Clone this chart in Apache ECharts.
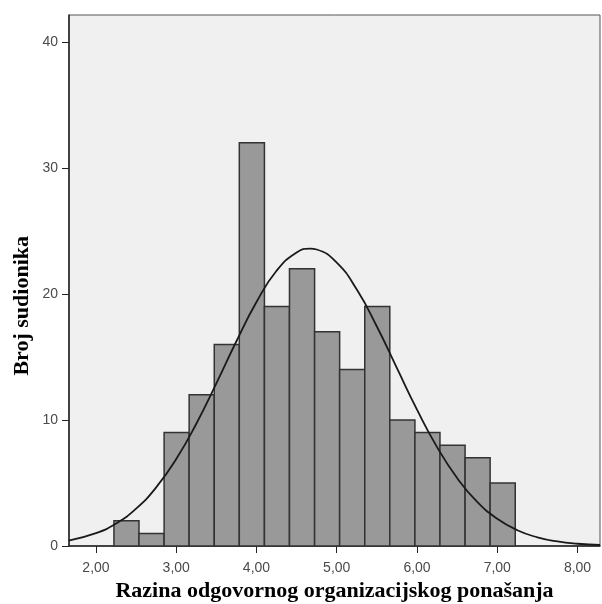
<!DOCTYPE html>
<html>
<head>
<meta charset="utf-8">
<script src="https://cdn.jsdelivr.net/npm/echarts@6/dist/echarts.min.js"></script>
<style>
  html, body { margin: 0; padding: 0; background: #fff; }
  #chart { width: 602px; height: 604px; }
</style>
</head>
<body>
<div id="chart"></div>
<script>
// histogram bins (edges) and counts
var binEdges = [2.224, 2.536, 2.849, 3.161, 3.474, 3.786, 4.099, 4.411, 4.724,
                5.036, 5.349, 5.661, 5.974, 6.286, 6.599, 6.911, 7.224];
var counts = [2, 1, 9, 12, 16, 32, 19, 22, 17, 14, 19, 10, 9, 8, 7, 5];

// fitted normal curve
var curveX = [1.66, 2.0, 2.25, 2.5, 2.75, 3.0, 3.25, 3.5, 3.75, 4.0, 4.25, 4.5, 4.67, 4.75,
              5.0, 5.25, 5.5, 5.75, 6.0, 6.25, 6.5, 6.75, 7.0, 7.25, 7.5, 7.75, 8.0, 8.28];
var curveY = [0.43, 1.02, 1.78, 2.96, 4.65, 6.90, 9.70, 12.91, 16.25, 19.36, 21.84, 23.30, 23.6, 23.53,
              22.49, 20.35, 17.42, 14.11, 10.82, 7.85, 5.39, 3.50, 2.16, 1.25, 0.69, 0.36, 0.18, 0.08];

var xTicks = [2, 3, 4, 5, 6, 7, 8];

var barData = counts.map(function (c, i) {
    return [binEdges[i], binEdges[i + 1], c];
});
var lineData = curveX.map(function (x, i) {
    return [x, curveY[i]];
});

var chart = echarts.init(document.getElementById('chart'));

var labelFont = {
    color: '#4a4a4a',
    fontFamily: '"Liberation Sans", Arial, sans-serif',
    fontSize: 14
};

var option = {
    animation: false,
    backgroundColor: '#ffffff',
    grid: {
        left: 69,
        right: 2,
        top: 15,
        bottom: 58,
        outerBoundsMode: 'none',
        show: true,
        backgroundColor: '#f0f0f0',
        borderColor: '#555555',
        borderWidth: 1
    },
    xAxis: {
        type: 'value',
        min: 1.664,
        max: 8.28,
        name: 'Razina odgovornog organizacijskog ponašanja',
        nameLocation: 'middle',
        nameGap: 34,
        nameTextStyle: {
            color: '#000',
            fontFamily: '"Liberation Serif", "Times New Roman", serif',
            fontWeight: 'bold',
            fontSize: 22
        },
        axisLine: { show: true, onZero: false, lineStyle: { color: '#222', width: 1.5 } },
        axisTick: { show: true, length: 7, customValues: xTicks, lineStyle: { color: '#222' } },
        axisLabel: Object.assign({
            margin: 15,
            customValues: xTicks,
            formatter: function (v) { return v.toFixed(2).replace('.', ','); }
        }, labelFont),
        splitLine: { show: false }
    },
    yAxis: {
        type: 'value',
        min: 0,
        max: 42.14,
        interval: 10,
        axisLine: { show: true, lineStyle: { color: '#222', width: 1.5 } },
        axisTick: { show: true, length: 7, lineStyle: { color: '#222' } },
        axisLabel: Object.assign({
            margin: 11,
            showMaxLabel: false
        }, labelFont),
        splitLine: { show: false }
    },
    graphic: [{
        type: 'text',
        left: 11,
        top: 236,
        rotation: Math.PI / 2,
        style: {
            text: 'Broj sudionika',
            fill: '#000',
            font: 'bold 22px "Liberation Serif", "Times New Roman", serif'
        }
    }],
    series: [{
        type: 'custom',
        data: barData,
        encode: { x: [0, 1], y: 2 },
        renderItem: function (params, api) {
            var p0 = api.coord([api.value(0), api.value(2)]);
            var p1 = api.coord([api.value(1), 0]);
            return {
                type: 'rect',
                shape: { x: p0[0], y: p0[1], width: p1[0] - p0[0], height: p1[1] - p0[1] },
                style: { fill: '#999999', stroke: '#333333', lineWidth: 1.5 }
            };
        },
        z: 2
    }, {
        type: 'line',
        data: lineData,
        smooth: true,
        showSymbol: false,
        symbol: 'none',
        lineStyle: { color: '#1a1a1a', width: 1.8 },
        z: 3
    }]
};

chart.setOption(option);
</script>
</body>
</html>
